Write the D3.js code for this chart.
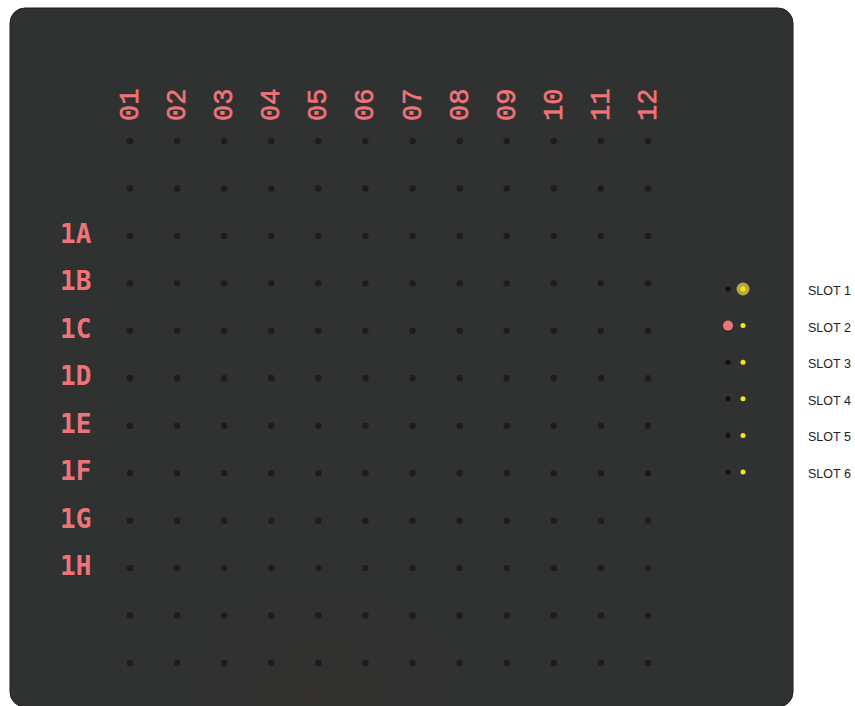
<!DOCTYPE html>
<html>
<head>
<meta charset="utf-8">
<script src="https://cdn.jsdelivr.net/npm/d3@7"></script>
<style>
  html, body { margin: 0; padding: 0; background: #ffffff; }
  svg { display: block; }
</style>
</head>
<body>
<svg id="chart" width="855" height="706"></svg>
<script>
// ---- data ----
const columns = ["01","02","03","04","05","06","07","08","09","10","11","12"];
const rows = ["r0","r1","1A","1B","1C","1D","1E","1F","1G","1H","r10","r11"];
const rowLabels = ["","","1A","1B","1C","1D","1E","1F","1G","1H","",""];
const slots = ["SLOT 1","SLOT 2","SLOT 3","SLOT 4","SLOT 5","SLOT 6"];
const slotHighlight = [true, false, false, false, false, false];
const slotActive = [false, true, false, false, false, false];

// ---- drawing ----
const svg = d3.select("#chart");
const defs = svg.append("defs");
const glow = defs.append("radialGradient").attr("id", "glow")
  .attr("cx", "50%").attr("cy", "50%").attr("r", "50%");
glow.append("stop").attr("offset", "0%").attr("stop-color", "#3a2a22").attr("stop-opacity", 0.18);
glow.append("stop").attr("offset", "100%").attr("stop-color", "#3a2a22").attr("stop-opacity", 0);

const clip = defs.append("clipPath").attr("id", "boardclip");
clip.append("rect").attr("x", 10).attr("y", 8).attr("width", 783).attr("height", 699).attr("rx", 15);

svg.append("rect")
  .attr("x", 10).attr("y", 8).attr("width", 783).attr("height", 699).attr("rx", 15)
  .attr("fill", "#303231").attr("stroke", "#1e1f1f").attr("stroke-width", 1);

svg.append("g").attr("clip-path", "url(#boardclip)")
  .append("ellipse").attr("cx", 320).attr("cy", 690).attr("rx", 130).attr("ry", 100)
  .attr("fill", "url(#glow)");

const x = d3.scalePoint().domain(columns).range([130, 648]);
const y = d3.scalePoint().domain(rows).range([141, 663]);

// grid dots
const cells = [];
rows.forEach(r => columns.forEach(c => cells.push({r, c})));
svg.append("g").selectAll("circle").data(cells).join("circle")
  .attr("cx", d => x(d.c)).attr("cy", d => y(d.r)).attr("r", 3.2)
  .attr("fill", "#1f1b1e");

// column labels
svg.append("g").selectAll("text").data(columns).join("text")
  .attr("transform", d => `translate(${x(d) + 8},121) rotate(-90)`)
  .attr("text-anchor", "start")
  .attr("font-family", "'Liberation Mono', monospace")
  .attr("font-weight", "normal")
  .attr("font-size", 27)
  .attr("fill", "#f0737a")
  .attr("stroke", "#f0737a").attr("stroke-width", 0.6)
  .text(d => d);

// row labels
svg.append("g").selectAll("text").data(rows.map((r, i) => ({r, label: rowLabels[i]})).filter(d => d.label))
  .join("text")
  .attr("x", 60).attr("y", d => y(d.r) + 7)
  .attr("font-family", "'DejaVu Sans Mono', monospace")
  .attr("font-weight", "bold")
  .attr("font-size", 26)
  .attr("fill", "#f0737a")
  .text(d => d.label);

// slots
const sy = d3.scalePoint().domain(slots).range([289, 472]);
const sg = svg.append("g").selectAll("g").data(slots.map((s, i) => ({s, hi: slotHighlight[i], act: slotActive[i]})))
  .join("g");
sg.append("circle")
  .attr("cx", 728).attr("cy", d => sy(d.s))
  .attr("r", d => d.act ? 5 : 2.5)
  .attr("fill", d => d.act ? "#f0737a" : "#111111");
sg.filter(d => d.hi).append("circle")
  .attr("cx", 743).attr("cy", d => sy(d.s)).attr("r", 6.5)
  .attr("fill", "#b7a843");
sg.append("circle")
  .attr("cx", 743).attr("cy", d => sy(d.s)).attr("r", 2.5)
  .attr("fill", "#f5ea10");
sg.append("text")
  .attr("x", 808).attr("y", d => sy(d.s) + 6)
  .attr("font-family", "'Liberation Sans', Arial, sans-serif")
  .attr("font-size", 12.5)
  .attr("fill", "#222222")
  .text(d => d.s);
</script>
</body>
</html>
